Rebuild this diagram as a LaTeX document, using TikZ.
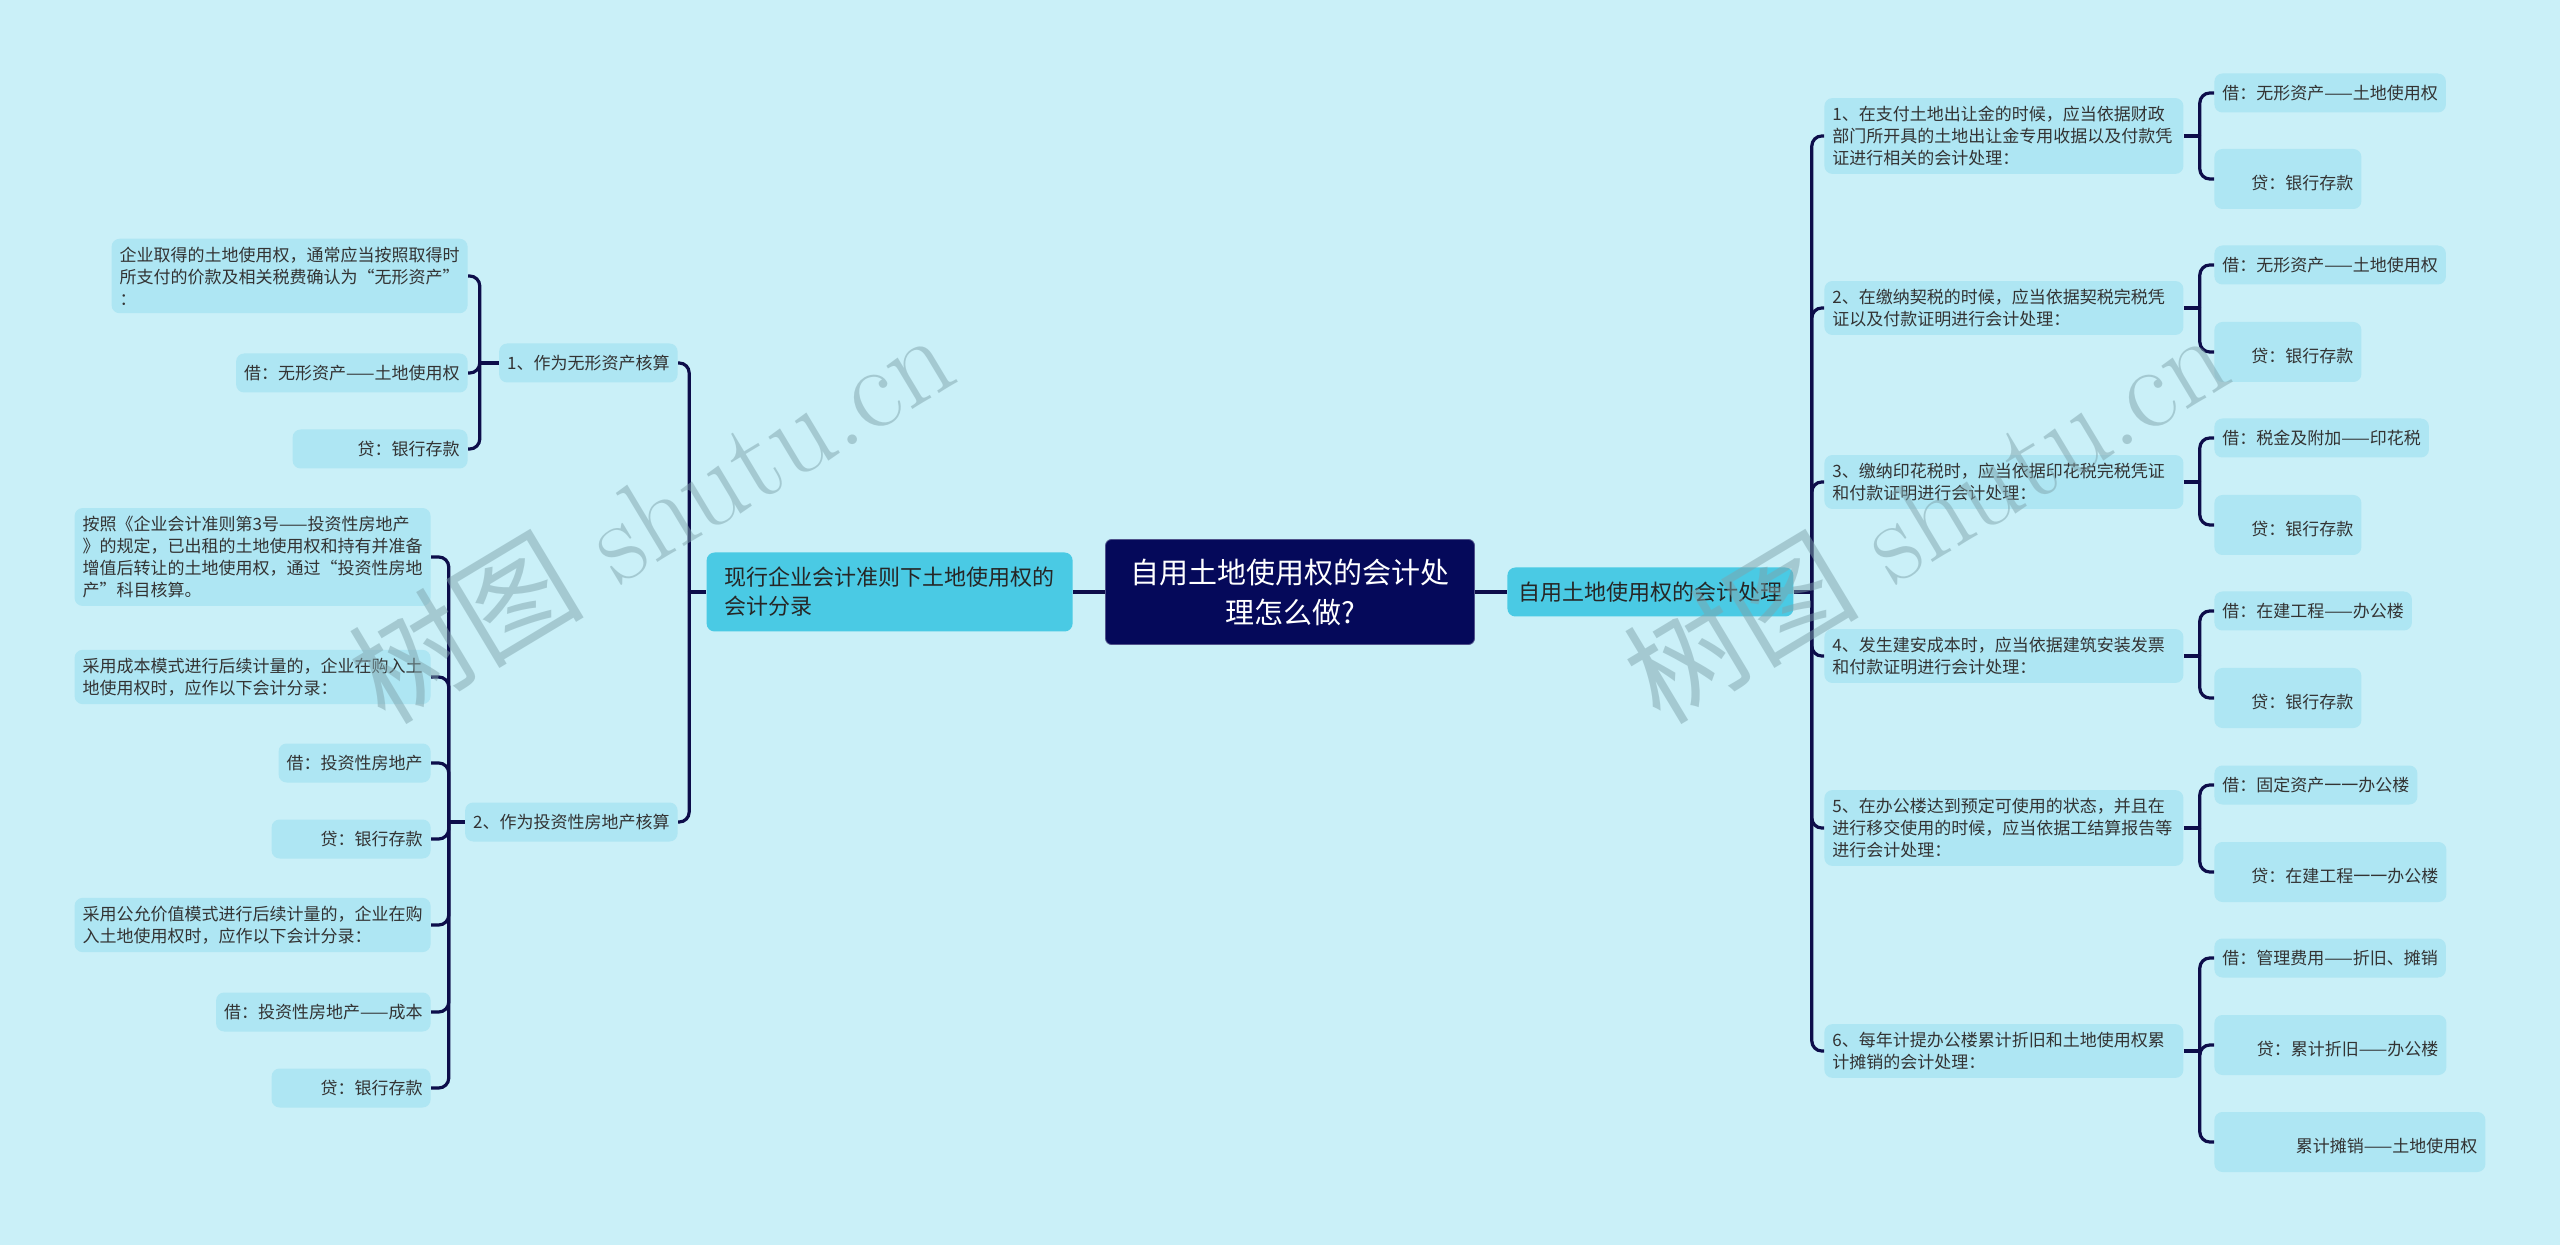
\documentclass[tikz,border=0pt]{standalone}
\usepackage{fontspec}
\usepackage{tikz}
\newfontfamily\cjk{Noto Sans CJK SC}
\definecolor{bgcol}{HTML}{CAF0F8}
\definecolor{leafcol}{HTML}{AEE6F3}
\definecolor{maincol}{HTML}{4ACAE4}
\definecolor{rootcol}{HTML}{05095A}
\definecolor{linecol}{HTML}{0D0D4A}
\definecolor{txtcol}{HTML}{333333}
\definecolor{wmcol}{HTML}{7FA4AC}

\begin{document}
\begin{tikzpicture}[x=0.5pt, y=-0.5pt,
	leaf/.style={fill=leafcol, rounded corners=4pt, text=txtcol, font={\cjk\fontsize{8.5}{11}\selectfont}, inner xsep=4pt, inner ysep=4pt, minimum height=19.5pt, align=left},
	tallleaf/.style={leaf, align=right, minimum height=30pt},
	item/.style={leaf, text width=171.5pt},
	mainbox/.style={fill=maincol, rounded corners=4pt, text=black!85, font={\cjk\fontsize{11}{14.5}\selectfont}, inner ysep=4pt, align=left},
	root/.style={fill=rootcol, draw=rootcol!70!white, rounded corners=3pt, text=white, font={\cjk\fontsize{14.5}{20}\selectfont}, align=center, minimum width=184.5pt, minimum height=52.5pt},
	link/.style={draw=linecol, line width=1.6pt, rounded corners=5pt},
	wm/.style={text=wmcol, text opacity=0.5, font=\fontsize{59}{59}\selectfont}]
	\fill[bgcol] (0,0) rectangle (2560,1245);

	\node[root] (root) at (1290,592) {自用土地使用权的会计处\\理怎么做?};
	\node[mainbox, anchor=east, inner xsep=9pt, minimum height=39.5pt] (lmain) at (1073,592) {现行企业会计准则下土地使用权的\\会计分录};
	\node[mainbox, anchor=west, inner xsep=5.5pt, minimum height=24.5pt] (rmain) at (1507,592) {自用土地使用权的会计处理};
	\draw[link] (root.west) -- (lmain.east);
	\draw[link] (root.east) -- (rmain.west);

	% left half
	\node[leaf, anchor=east] (l1) at (678,363) {1、作为无形资产核算};
	\node[leaf, anchor=east] (l2) at (678,822) {2、作为投资性房地产核算};
	\node[leaf, anchor=east] (l1a) at (468,276) {企业取得的土地使用权，通常应当按照取得时\\所支付的价款及相关税费确认为“无形资产”\\：};
	\node[leaf, anchor=east] (l1b) at (468,373) {借：无形资产——土地使用权};
	\node[leaf, anchor=east, align=right, text width=79.5pt] (l1c) at (468,449) {贷：银行存款};
	\node[leaf, anchor=east] (l2a) at (431,557) {按照《企业会计准则第3号——投资性房地产\\》的规定，已出租的土地使用权和持有并准备\\增值后转让的土地使用权，通过“投资性房地\\产”科目核算。};
	\node[leaf, anchor=east] (l2b) at (431,677) {采用成本模式进行后续计量的，企业在购入土\\地使用权时，应作以下会计分录：};
	\node[leaf, anchor=east] (l2c) at (431,763) {借：投资性房地产};
	\node[leaf, anchor=east, align=right, text width=71.5pt] (l2d) at (431,839) {贷：银行存款};
	\node[leaf, anchor=east] (l2e) at (431,925) {采用公允价值模式进行后续计量的，企业在购\\入土地使用权时，应作以下会计分录：};
	\node[leaf, anchor=east] (l2f) at (431,1012) {借：投资性房地产——成本};
	\node[leaf, anchor=east, align=right, text width=71.5pt] (l2g) at (431,1088) {贷：银行存款};

	\draw[link] (lmain.west) -- ++(-17,0) coordinate (jl);
	\foreach \c in {l1,l2} {\draw[link] (jl) |- (\c.east);}
	\draw[link] (l1.west) -- ++(-19,0) coordinate (j1);
	\foreach \c in {l1a,l1b,l1c} {\draw[link] (j1) |- (\c.east);}
	\draw[link] (l2.west) -- ++(-16,0) coordinate (j2);
	\foreach \c in {l2a,l2b,l2c,l2d,l2e,l2f,l2g} {\draw[link] (j2) |- (\c.east);}

	% right half
	\node[item, anchor=west] (r1) at (1824,136) {1、在支付土地出让金的时候，应当依据财政\\部门所开具的土地出让金专用收据以及付款凭\\证进行相关的会计处理：};
	\node[item, anchor=west] (r2) at (1824,308) {2、在缴纳契税的时候，应当依据契税完税凭\\证以及付款证明进行会计处理：};
	\node[item, anchor=west] (r3) at (1824,482) {3、缴纳印花税时，应当依据印花税完税凭证\\和付款证明进行会计处理：};
	\node[item, anchor=west] (r4) at (1824,656) {4、发生建安成本时，应当依据建筑安装发票\\和付款证明进行会计处理：};
	\node[item, anchor=west] (r5) at (1824,828) {5、在办公楼达到预定可使用的状态，并且在\\进行移交使用的时候，应当依据工结算报告等\\进行会计处理：};
	\node[item, anchor=west] (r6) at (1824,1051) {6、每年计提办公楼累计折旧和土地使用权累\\计摊销的会计处理：};

	\node[leaf, anchor=west] (r1a) at (2214,93) {借：无形资产——土地使用权};
	\node[tallleaf, anchor=west, text width=65.5pt] (r1b) at (2214,179) {\mbox{}\\贷：银行存款};
	\node[leaf, anchor=west] (r2a) at (2214,265) {借：无形资产——土地使用权};
	\node[tallleaf, anchor=west, text width=65.5pt] (r2b) at (2214,352) {\mbox{}\\贷：银行存款};
	\node[leaf, anchor=west] (r3a) at (2214,438) {借：税金及附加——印花税};
	\node[tallleaf, anchor=west, text width=65.5pt] (r3b) at (2214,525) {\mbox{}\\贷：银行存款};
	\node[leaf, anchor=west] (r4a) at (2214,611) {借：在建工程——办公楼};
	\node[tallleaf, anchor=west, text width=65.5pt] (r4b) at (2214,698) {\mbox{}\\贷：银行存款};
	\node[leaf, anchor=west] (r5a) at (2214,785) {借：固定资产一一办公楼};
	\node[tallleaf, anchor=west, text width=108pt] (r5b) at (2214,872) {\mbox{}\\贷：在建工程一一办公楼};
	\node[leaf, anchor=west] (r6a) at (2214,958) {借：管理费用——折旧、摊销};
	\node[tallleaf, anchor=west, text width=108pt] (r6b) at (2214,1045) {\mbox{}\\贷：累计折旧——办公楼};
	\node[tallleaf, anchor=west, text width=127.5pt] (r6c) at (2214,1142) {\mbox{}\\累计摊销——土地使用权};

	\draw[link] (rmain.east) -- ++(18,0) coordinate (jr);
	\foreach \c in {r1,r2,r3,r4,r5,r6} {\draw[link] (jr) |- (\c.west);}
	\foreach \i in {1,...,6} {\draw[link] (r\i.east) -- ++(16,0) coordinate (k\i);}
	\foreach \i in {1,...,5} {
		\foreach \s in {a,b} {\draw[link] (k\i) |- (r\i\s.west);}
	}
	\foreach \s in {a,b,c} {\draw[link] (k6) |- (r6\s.west);}

	% watermark on top
	\node[wm, rotate=31] (wmL) at (650,515) {{\cjk 树图} shutu.cn};
	\node[wm, rotate=31] (wmR) at (1925,515) {{\cjk 树图} shutu.cn};
\end{tikzpicture}
\end{document}
